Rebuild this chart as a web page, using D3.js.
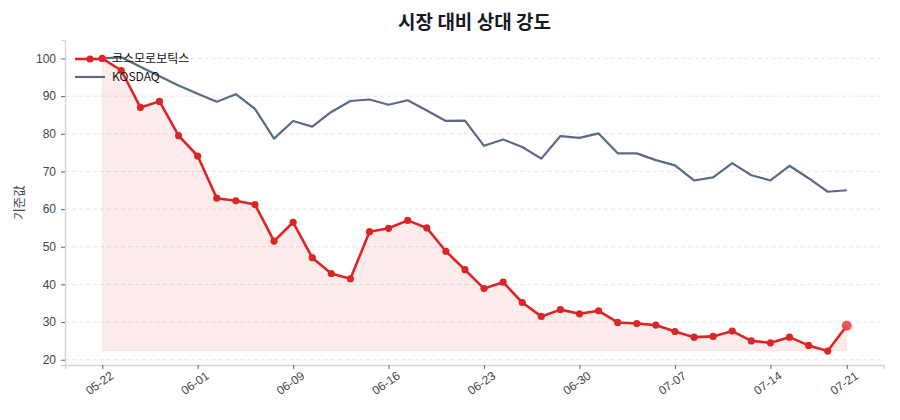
<!DOCTYPE html>
<html>
<head>
<meta charset="utf-8">
<script src="https://cdn.jsdelivr.net/npm/d3@7"></script>
<style>
  body { margin: 0; background: #fff; }
  svg { font-family: "Noto Sans CJK KR", "Noto Sans", sans-serif; }
</style>
</head>
<body>
<script>
// trading days (only every 5th + last are labelled)
var dates = ['05-22','05-23','05-26','05-27','05-29','06-01','06-02','06-04','06-05','06-08',
             '06-09','06-10','06-11','06-12','06-13','06-16','06-17','06-18','06-19','06-20',
             '06-23','06-24','06-25','06-26','06-27','06-30','07-01','07-02','07-03','07-04',
             '07-07','07-08','07-09','07-10','07-11','07-14','07-15','07-16','07-18','07-21'];

var stockValues = [100, 96.8, 87.0, 88.6, 79.5, 74.1, 62.9, 62.2, 61.2, 51.5,
                   56.5, 47.1, 42.9, 41.5, 54.0, 54.9, 57.0, 55.0, 48.8, 43.9,
                   38.9, 40.6, 35.2, 31.5, 33.3, 32.2, 33.0, 29.9, 29.6, 29.2,
                   27.5, 26.0, 26.2, 27.6, 25.0, 24.5, 26.0, 23.8, 22.3, 29.0];

var kosdaqValues = [100, 100.3, 97.8, 95.3, 92.8, 90.6, 88.5, 90.5, 86.6, 78.7,
                    83.4, 81.9, 85.8, 88.7, 89.1, 87.7, 88.9, 86.2, 83.4, 83.5,
                    76.8, 78.5, 76.5, 73.4, 79.4, 78.9, 80.1, 74.8, 74.8, 73.0,
                    71.6, 67.6, 68.4, 72.2, 69.0, 67.6, 71.5, 68.2, 64.6, 65.0];

var yTicks = [20, 30, 40, 50, 60, 70, 80, 90, 100];
var seriesNames = ['코스모로보틱스', 'KOSDAQ'];

var width = 900, height = 420;
var margin = { top: 40, right: 16, bottom: 55, left: 65 };
var red = '#dc2626', slate = '#5a6a84';

var svg = d3.select('body').append('svg')
    .attr('width', width)
    .attr('height', height);

var plotW = width - margin.left - margin.right,
    plotH = height - margin.top - margin.bottom;

var g = svg.append('g').attr('transform', 'translate(' + margin.left + ',' + margin.top + ')');

// 5% margins like the original
var x = d3.scaleLinear()
    .domain([-0.05 * 39, 39 * 1.05])
    .range([0, plotW]);

var yMin = d3.min(stockValues);
var y = d3.scaleLinear()
    .domain([18.6, 104.9])
    .range([plotH, 0]);

// grid
g.selectAll('.grid')
    .data(yTicks)
    .enter()
    .append('line')
    .attr('x1', 0).attr('x2', plotW)
    .attr('y1', function(d) { return y(d); })
    .attr('y2', function(d) { return y(d); })
    .attr('stroke', '#e3e5ea')
    .attr('stroke-dasharray', '4,3')
    .attr('stroke-width', 1);

// area under stock line down to its minimum
var area = d3.area()
    .x(function(d, i) { return x(i); })
    .y0(y(yMin))
    .y1(function(d) { return y(d); });

g.append('path')
    .datum(stockValues)
    .attr('d', area)
    .attr('fill', red)
    .attr('fill-opacity', 0.09)
    .attr('stroke', red)
    .attr('stroke-opacity', 0.06);

var line = d3.line()
    .x(function(d, i) { return x(i); })
    .y(function(d) { return y(d); });

g.append('path')
    .datum(kosdaqValues)
    .attr('d', line)
    .attr('fill', 'none')
    .attr('stroke', slate)
    .attr('stroke-width', 2.2)
    .attr('stroke-linejoin', 'round');

g.append('path')
    .datum(stockValues)
    .attr('d', line)
    .attr('fill', 'none')
    .attr('stroke', red)
    .attr('stroke-width', 2.6)
    .attr('stroke-linejoin', 'round');

g.selectAll('.dot')
    .data(stockValues.slice(0, -1))
    .enter()
    .append('circle')
    .attr('cx', function(d, i) { return x(i); })
    .attr('cy', function(d) { return y(d); })
    .attr('r', 3.6)
    .attr('fill', red);

// last point highlighted
var last = stockValues.length - 1;
g.append('circle')
    .attr('cx', x(last))
    .attr('cy', y(stockValues[last]))
    .attr('r', 5)
    .attr('fill', '#ef4444')
    .attr('fill-opacity', 0.9);

// axes
var tickIdx = d3.range(0, dates.length, 5).concat([last]);
var xAxis = d3.axisBottom(x)
    .tickValues(tickIdx)
    .tickFormat(function(i) { return dates[i]; })
    .tickSize(4)
    .tickPadding(6);

var yAxis = d3.axisLeft(y)
    .tickValues(yTicks)
    .tickSize(4)
    .tickPadding(5);

var gx = g.append('g')
    .attr('transform', 'translate(0,' + plotH + ')')
    .call(xAxis);
gx.select('.domain').attr('stroke', '#d3d6dd').attr('stroke-width', 1.5);
gx.selectAll('.tick line').attr('stroke', '#5a6275');
gx.selectAll('.tick text')
    .attr('fill', '#3f4656')
    .attr('font-size', 12)
    .attr('text-anchor', 'end')
    .attr('dx', '0.2em')
    .attr('dy', '0.6em')
    .attr('transform', 'rotate(-35)');

var gy = g.append('g').call(yAxis);
gy.select('.domain').attr('stroke', '#d3d6dd').attr('stroke-width', 1.5);
gy.selectAll('.tick line').attr('stroke', '#5a6275');
gy.selectAll('.tick text')
    .attr('fill', '#3f4656')
    .attr('font-size', 12);

// y label
svg.append('text')
    .attr('transform', 'translate(24,' + (margin.top + plotH / 2) + ') rotate(-90)')
    .attr('text-anchor', 'middle')
    .attr('fill', '#3f4656')
    .attr('font-size', 12.5)
    .text('기준값');

// title
svg.append('text')
    .attr('x', margin.left + plotW / 2)
    .attr('y', 29)
    .attr('text-anchor', 'middle')
    .attr('font-size', 19)
    .attr('font-weight', 'bold')
    .attr('fill', '#151a26')
    .text('시장 대비 상대 강도');

// legend
var legend = g.append('g').attr('transform', 'translate(10,19)');
var legendColors = [red, slate];
seriesNames.forEach(function(name, k) {
    var row = legend.append('g').attr('transform', 'translate(0,' + (k * 18) + ')');
    row.append('line')
        .attr('x1', 0).attr('x2', 30)
        .attr('stroke', legendColors[k])
        .attr('stroke-width', k == 0 ? 2.6 : 2.2);
    if (k == 0) {
        row.append('circle').attr('cx', 15).attr('r', 3.6).attr('fill', red);
    }
    row.append('text')
        .attr('x', 37)
        .attr('dy', '0.35em')
        .attr('font-size', 12)
        .attr('fill', '#111')
        .text(name);
});
</script>
</body>
</html>
